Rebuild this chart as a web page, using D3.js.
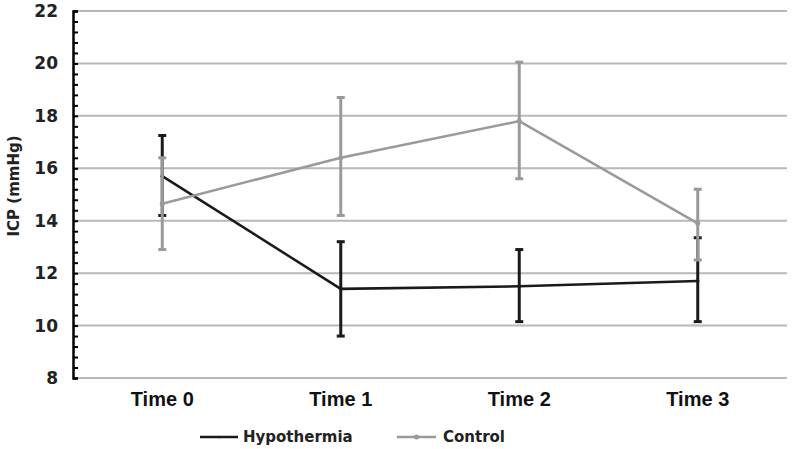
<!DOCTYPE html>
<html><head><meta charset="utf-8">
<script src="https://cdn.jsdelivr.net/npm/d3@7"></script>
<style>body{margin:0;background:#fff}svg{display:block}</style>
</head><body><svg id="c" width="792" height="449"></svg>
<script>
const categories = ["Time 0", "Time 1", "Time 2", "Time 3"];
const hypoMean = [15.7, 11.4, 11.5, 11.7];
const hypoHigh = [17.25, 13.2, 12.9, 13.35];
const hypoLow  = [14.2, 9.6, 10.15, 10.15];
const ctrlMean = [14.65, 16.4, 17.8, 13.9];
const ctrlHigh = [16.4, 18.7, 20.05, 15.2];
const ctrlLow  = [12.9, 14.2, 15.6, 12.5];
const yTicks = [8, 10, 12, 14, 16, 18, 20, 22];
const seriesNames = ["Hypothermia", "Control"];

const svg = d3.select("#c");
const x = d3.scaleBand().domain(categories).range([73, 787]);
const y = d3.scaleLinear().domain([8, 22]).range([378, 11]);
const cx = d => x(d) + x.bandwidth() / 2;

// gridlines
svg.append("g").selectAll("line").data(yTicks).join("line")
  .attr("x1", 73).attr("x2", 787)
  .attr("y1", d => y(d)).attr("y2", d => y(d))
  .attr("stroke", "#b8b8b8").attr("stroke-width", 2);

// y axis with minor ticks
const minor = d3.range(8, 22.0001, 0.4);
const ax = svg.append("g").attr("transform", "translate(73,0)")
  .call(d3.axisRight(y).tickValues(minor).tickSize(5).tickFormat(""));
ax.select(".domain").attr("stroke", "#000").attr("stroke-width", 2.5);
ax.selectAll(".tick line").attr("stroke", "#000").attr("stroke-width", 2);

svg.append("g").selectAll("text").data(yTicks).join("text")
  .attr("x", 58).attr("y", d => y(d)).attr("dy", "0.35em")
  .attr("text-anchor", "end")
  .style("font", "bold 17px 'DejaVu Sans'").attr("fill", "#222")
  .text(d => d);

svg.append("text").attr("transform", "translate(19,186) rotate(-90)")
  .attr("text-anchor", "middle")
  .style("font", "bold 15px 'DejaVu Sans'").attr("fill", "#222")
  .text("ICP (mmHg)");

// x labels
svg.append("g").selectAll("text").data(categories).join("text")
  .attr("x", d => cx(d)).attr("y", 406)
  .attr("text-anchor", "middle")
  .style("font", "bold 20px 'Liberation Sans'").attr("fill", "#111")
  .text(d => d);

function drawSeries(mean, high, low, color, barW, r) {
  const g = svg.append("g");
  const idx = d3.range(categories.length);
  g.selectAll("line.eb").data(idx).join("line").attr("class", "eb")
    .attr("x1", i => cx(categories[i])).attr("x2", i => cx(categories[i]))
    .attr("y1", i => y(high[i])).attr("y2", i => y(low[i]))
    .attr("stroke", color).attr("stroke-width", barW);
  [high, low].forEach(arr => {
    g.selectAll(null).data(idx).join("line")
      .attr("x1", i => cx(categories[i]) - 4).attr("x2", i => cx(categories[i]) + 4)
      .attr("y1", i => y(arr[i])).attr("y2", i => y(arr[i]))
      .attr("stroke", color).attr("stroke-width", 3);
  });
  const line = d3.line().x(i => cx(categories[i])).y(i => y(mean[i]));
  g.append("path").attr("d", line(idx)).attr("fill", "none")
    .attr("stroke", color).attr("stroke-width", 2.5);
  g.selectAll("circle").data(idx).join("circle")
    .attr("cx", i => cx(categories[i])).attr("cy", i => y(mean[i]))
    .attr("r", r).attr("fill", color);
}
drawSeries(hypoMean, hypoHigh, hypoLow, "#1a1a1a", 3, 1.8);
drawSeries(ctrlMean, ctrlHigh, ctrlLow, "#9a9a9a", 3, 2.5);

// legend
const leg = [
  {name: seriesNames[0], color: "#1a1a1a", x1: 200, x2: 238, tx: 243, r: 1.2},
  {name: seriesNames[1], color: "#9a9a9a", x1: 397, x2: 436, tx: 443, r: 2.5}
];
const lg = svg.append("g");
leg.forEach(l => {
  lg.append("line").attr("x1", l.x1).attr("x2", l.x2).attr("y1", 437).attr("y2", 437)
    .attr("stroke", l.color).attr("stroke-width", 2.5);
  lg.append("circle").attr("cx", (l.x1 + l.x2) / 2).attr("cy", 437).attr("r", l.r).attr("fill", l.color);
  lg.append("text").attr("x", l.tx).attr("y", 437).attr("dy", "0.35em")
    .style("font", "bold 15px 'DejaVu Sans'").attr("fill", "#222").text(l.name);
});
</script></body></html>
